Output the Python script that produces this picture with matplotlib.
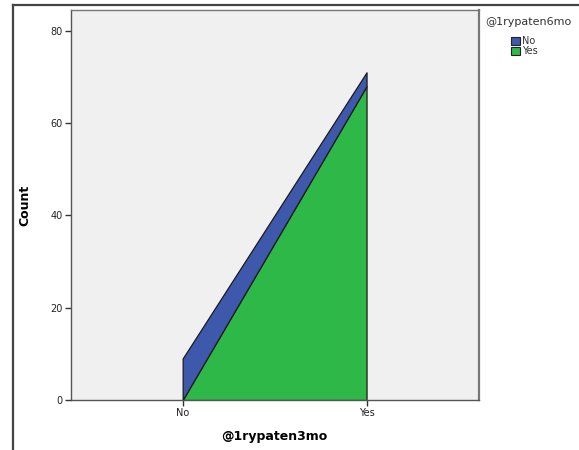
import matplotlib
matplotlib.use("Agg")
import matplotlib.pyplot as plt
from matplotlib.lines import Line2D
from matplotlib.patches import Patch

# data
cats_3mo = ["No", "Yes"]
groups_6mo = ["No", "Yes"]
count_6mo_no = [9, 3]
count_6mo_yes = [0, 68]
group_colors = ["#3e58ac", "#2eb848"]

yticks = [0, 20, 40, 60, 80]

fig = plt.figure(figsize=(5.79, 4.5), dpi=100)
ax = fig.add_axes([70.5 / 579, 50 / 450, 408.2 / 579, 390 / 450])
ax.set_facecolor("#f0f0f0")

x = list(range(len(cats_3mo)))
# stacked: "Yes" at the bottom, "No" on top
ax.stackplot(x, count_6mo_yes, count_6mo_no,
             colors=[group_colors[1], group_colors[0]],
             edgecolor="#1a1a1a", linewidth=0.9)

ax.set_xlim(-0.61, 1.61)
ax.set_ylim(0, 84.5)
ax.set_xticks(x)
ax.set_xticklabels(cats_3mo)
ax.set_yticks(yticks)
ax.tick_params(axis="both", labelsize=7, length=4, width=1, color="#333333",
               labelcolor="#222222", pad=1.5)

for s in ax.spines.values():
    s.set_color("#777777")
    s.set_linewidth(1.0)
ax.spines["right"].set_linewidth(1.6)
ax.spines["left"].set_color("#555555")
ax.spines["bottom"].set_color("#555555")

ax.set_xlabel("@1rypaten3mo", fontsize=9, fontweight="bold", labelpad=9)
ax.set_ylabel("Count", fontsize=9, fontweight="bold", labelpad=14)

# legend
handles = [Patch(facecolor=group_colors[i], edgecolor="#222222", linewidth=0.8)
           for i in range(len(groups_6mo))]
fig.text(485 / 579, 1 - 22 / 450, "@1rypaten6mo", fontsize=8, color="#333333",
         va="center", ha="left")
leg = fig.legend(handles, groups_6mo, loc="upper left",
                 bbox_to_anchor=(511 / 579, 1 - 36 / 450), frameon=False,
                 fontsize=7, handlelength=0.9, handleheight=0.9,
                 handletextpad=0.2, labelspacing=0.05, borderpad=0,
                 borderaxespad=0)
for t in leg.get_texts():
    t.set_color("#333333")

# outer frame of the output viewer
fig.add_artist(Line2D([13 / 579, 13 / 579], [0, 1 - 5 / 450],
                      transform=fig.transFigure, color="#444444", linewidth=1.6))
fig.add_artist(Line2D([13 / 579, 1], [1 - 5 / 450, 1 - 5 / 450],
                      transform=fig.transFigure, color="#444444", linewidth=1.6))

fig.savefig("out.png", dpi=100)
